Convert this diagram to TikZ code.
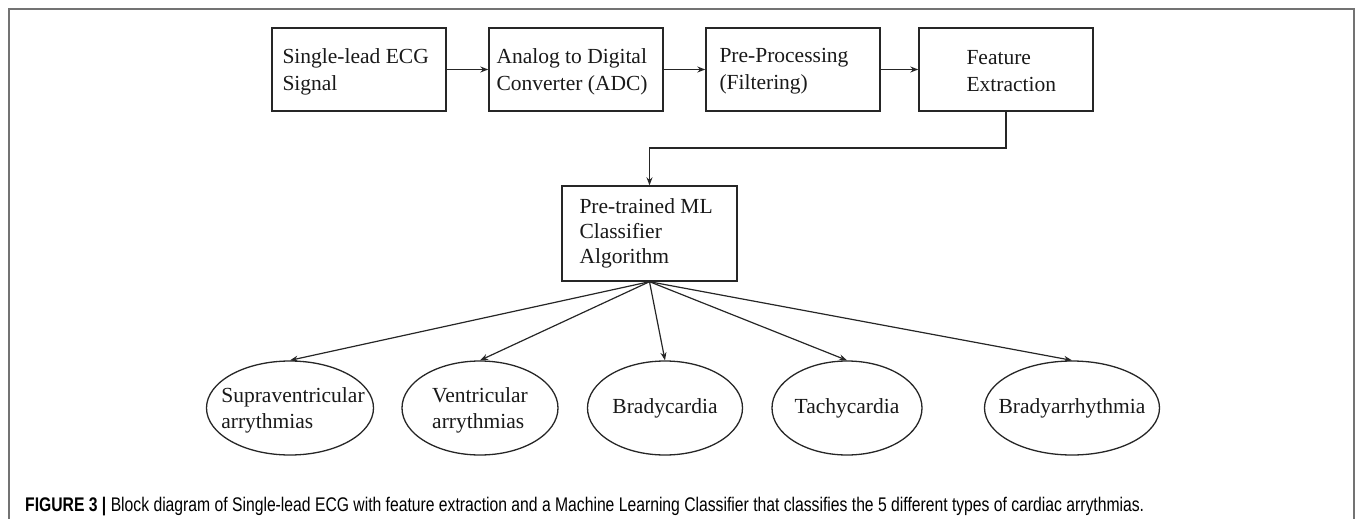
\documentclass[tikz,border=0pt]{standalone}
\usepackage{graphicx}
\usepackage{fontspec}
\setmainfont{Liberation Serif}
\newfontfamily\capfont{Liberation Sans}
\usetikzlibrary{shapes.geometric,arrows.meta}
\begin{document}
\begin{tikzpicture}[x=1pt,y=-1pt,
  frameline/.style={draw=black!55, line width=1.6pt},
  box/.style={draw=black!85, line width=1.4pt, minimum width=174pt, minimum height=83pt, inner sep=0pt},
  txt/.style={font=\fontsize{21.5}{27}\selectfont, align=left, inner sep=0pt, anchor=west, text=black!90},
  ctxt/.style={font=\fontsize{21.5}{25}\selectfont, align=left, inner sep=0pt, anchor=west, text=black!90},
  oval/.style={ellipse, draw=black!85, line width=1.3pt, minimum height=94pt, inner sep=0pt},
  otxt/.style={align=left, inner sep=0pt, font=\fontsize{21.5}{26}\selectfont, text=black!90},
  arr/.style={draw=black!85, line width=1.2pt, -{Stealth[length=8pt,width=6pt]}}
]
\useasboundingbox (0,0) rectangle (1355,519);
\draw[frameline] (9,519) -- (9,9) -- (1354,9) -- (1354,519);

% top row boxes
\node[box] (s) at (359,69.5) {};
\node[txt] (st) at ([xshift=11pt,yshift=-2pt]s.west) {Single-lead ECG\\Signal};
\node[box] (a) at (576,69.5) {};
\node[txt] (at) at ([xshift=8pt,yshift=-2pt]a.west) {Analog to Digital\\Converter (ADC)};
\node[box] (p) at (793,69.5) {};
\node[txt] (pt) at ([xshift=14pt,yshift=-2pt]p.west) {Pre-Processing\\(Filtering)};
\node[box] (f) at (1006,69.5) {};
\node[txt] (ft) at ([xshift=48pt,yshift=-2pt]f.west) {Feature\\Extraction};

\draw[arr] (s) -- (a);
\draw[arr] (a) -- (p);
\draw[arr] (p) -- (f);

% classifier
\node[box, minimum width=175pt, minimum height=95pt] (c) at (649.5,233.5) {};
\node[ctxt] (ct) at ([xshift=18pt]c.west) {Pre-trained ML\\Classifier\\Algorithm};

\coordinate (j) at (1006,148);
\draw[arr] (f.south) -- (j) -| (c.north);

% outcome ellipses
\node[oval, minimum width=167pt] (e1) at (290,408) {};
\node[otxt] (t1) at ([xshift=3pt,yshift=-2pt]e1.center) {Supraventricular\\arrythmias};
\node[oval, minimum width=156pt] (e2) at (480,408) {};
\node[otxt] (t2) at ([yshift=-2pt]e2.center) {Ventricular\\arrythmias};
\node[oval, minimum width=155pt] (e3) at (665,408) {};
\node[otxt] (t3) at (e3.center) {Bradycardia};
\node[oval, minimum width=150pt] (e4) at (847,408) {};
\node[otxt] (t4) at (e4.center) {Tachycardia};
\node[oval, minimum width=175pt] (e5) at (1072,408) {};
\node[otxt] (t5) at (e5.center) {Bradyarrhythmia};

\foreach \e in {e1,e2,e3,e4,e5} \draw[arr] (c.south) -- (\e.north);

% caption
\node[anchor=base west, inner sep=0pt] (cap) at (25,511) {\resizebox{1119pt}{14.3pt}{\capfont\textbf{FIGURE 3 |} Block diagram of Single-lead ECG with feature extraction and a Machine Learning Classifier that classifies the 5 different types of cardiac arrythmias.}};
\end{tikzpicture}
\end{document}
